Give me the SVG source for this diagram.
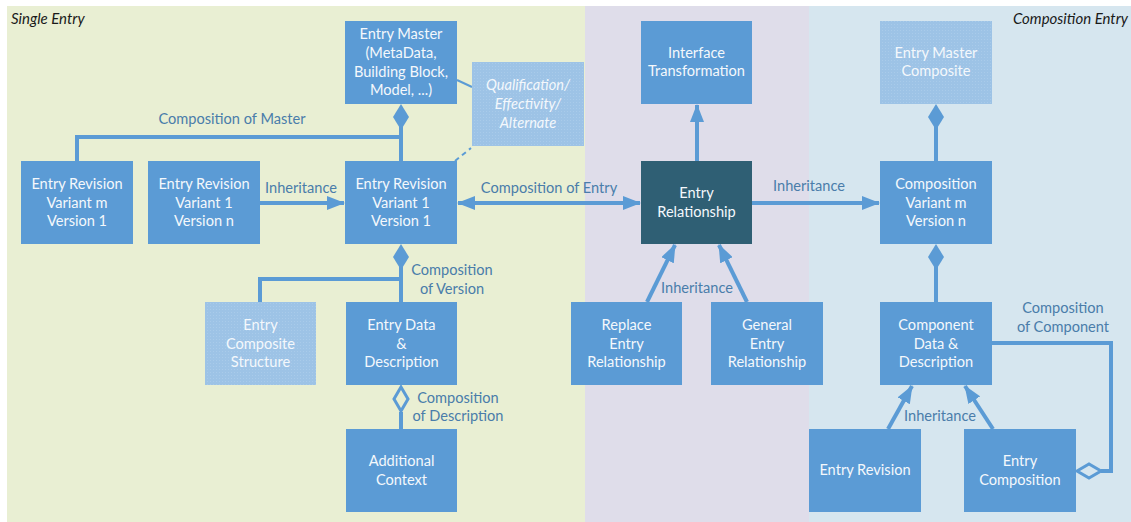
<svg xmlns="http://www.w3.org/2000/svg" width="1131" height="522" viewBox="0 0 1131 522">
<defs>
<style>
.node{fill:#5B9BD5;}
.light{fill:url(#dots);}
.dark{fill:#2F5F74;}
.nt{font-family:Lato,"Liberation Sans",sans-serif;font-size:14.6px;fill:#F4F8FC;text-anchor:middle;}
.it{font-style:italic;}
.lbl{font-family:Lato,"Liberation Sans",sans-serif;font-size:14.6px;fill:#4A7DAA;text-anchor:middle;}
.sec{font-family:Lato,"Liberation Sans",sans-serif;font-size:15px;font-style:italic;fill:#1A1A1A;}
.c{fill:none;stroke:#5B9BD5;stroke-width:4;}
.thin{fill:none;stroke:#5B9BD5;stroke-width:2;}
.fd{fill:#5B9BD5;stroke:none;}
.hd{stroke:#5B9BD5;stroke-width:3;}
</style>
<pattern id="dots" width="3" height="3" patternUnits="userSpaceOnUse">
<rect width="3" height="3" fill="#9DC3E6"/>
<rect width="1" height="1" fill="#A9CBEA"/>
</pattern>
<marker id="arr" viewBox="0 0 18 14" refX="17" refY="7" markerWidth="18" markerHeight="14" markerUnits="userSpaceOnUse" orient="auto">
<path d="M0,0 L18,7 L0,14 z" fill="#5B9BD5"/>
</marker>
<marker id="arrs" viewBox="0 0 18 14" refX="17" refY="7" markerWidth="18" markerHeight="14" markerUnits="userSpaceOnUse" orient="auto-start-reverse">
<path d="M0,0 L18,7 L0,14 z" fill="#5B9BD5"/>
</marker>
</defs>

<g id="panels">
<rect x="0" y="0" width="1131" height="522" fill="#FFFFFF"/>
<rect x="7" y="6" width="578" height="516" fill="#E9EFD3"/>
<rect x="585" y="6" width="224" height="516" fill="#DFDDEA"/>
<rect x="809" y="6" width="322" height="516" fill="#D6E6EF"/>
<text class="sec" x="11" y="24">Single Entry</text>
<text class="sec" x="1128" y="24" text-anchor="end">Composition Entry</text>
</g>

<g id="connectors">
<!-- composition of master -->
<polyline class="c" points="77,161 77,137 401,137"/>
<line class="c" x1="401" y1="161" x2="401" y2="125"/>
<polygon class="fd" points="401,104 409,117 401,130 393,117"/>
<text class="lbl" x="232" y="124">Composition of Master</text>
<!-- inheritance left -->
<line class="c" x1="260" y1="203" x2="344" y2="203" marker-end="url(#arr)"/>
<text class="lbl" x="301" y="193">Inheritance</text>
<!-- qualification -->
<line class="thin" x1="457" y1="80" x2="472" y2="87"/>
<line class="thin" x1="455" y1="161" x2="471" y2="148" stroke-dasharray="5,4"/>
<!-- composition of entry -->
<line class="c" x1="458" y1="203" x2="640" y2="203" marker-start="url(#arrs)" marker-end="url(#arr)"/>
<text class="lbl" x="549" y="193">Composition of Entry</text>
<!-- relationship to interface -->
<line class="c" x1="697" y1="161" x2="697" y2="105" marker-end="url(#arr)"/>
<!-- inheritance right -->
<line class="c" x1="752" y1="203" x2="879" y2="203" marker-end="url(#arr)"/>
<text class="lbl" x="809" y="191">Inheritance</text>
<!-- master composite -->
<line class="c" x1="936" y1="161" x2="936" y2="125"/>
<polygon class="fd" points="936,104 944,117 936,130 928,117"/>
<!-- composition variant to component -->
<line class="c" x1="936" y1="302" x2="936" y2="265"/>
<polygon class="fd" points="936,244 944,257 936,270 928,257"/>
<!-- composition of version -->
<line class="c" x1="401" y1="302" x2="401" y2="265"/>
<polygon class="fd" points="401,244 409,257 401,270 393,257"/>
<polyline class="c" points="401,279 260,279 260,302"/>
<text class="lbl" x="452" y="275">Composition</text>
<text class="lbl" x="452" y="294">of Version</text>
<!-- composition of description -->
<line class="c" x1="401" y1="429" x2="401" y2="412"/>
<polygon class="hd" fill="#E9EFD3" points="401,387 408,399 401,411 394,399"/>
<text class="lbl" x="458" y="403">Composition</text>
<text class="lbl" x="458" y="421">of Description</text>
<!-- inheritance middle -->
<line class="c" x1="647" y1="302" x2="675" y2="245" marker-end="url(#arr)"/>
<line class="c" x1="747" y1="302" x2="719" y2="245" marker-end="url(#arr)"/>
<text class="lbl" x="697" y="293">Inheritance</text>
<!-- inheritance bottom right -->
<line class="c" x1="888" y1="429" x2="912" y2="386" marker-end="url(#arr)"/>
<line class="c" x1="993" y1="429" x2="965" y2="386" marker-end="url(#arr)"/>
<text class="lbl" x="940" y="421">Inheritance</text>
<!-- composition of component -->
<polyline class="c" points="992,343 1111,343 1111,471 1101,471"/>
<polygon class="hd" fill="#D6E6EF" points="1077,471 1089,464 1101,471 1089,478"/>
<text class="lbl" x="1063" y="313">Composition</text>
<text class="lbl" x="1063" y="332">of Component</text>
</g>

<g id="n-rev-m">
<rect class="node" x="21" y="161" width="112" height="83"/>
<text class="nt" x="77" y="189">Entry Revision</text>
<text class="nt" x="77" y="208">Variant m</text>
<text class="nt" x="77" y="226">Version 1</text>
</g>
<g id="n-rev-1n">
<rect class="node" x="148" y="161" width="112" height="83"/>
<text class="nt" x="204" y="189">Entry Revision</text>
<text class="nt" x="204" y="208">Variant 1</text>
<text class="nt" x="204" y="226">Version n</text>
</g>
<g id="n-master">
<rect class="node" x="345" y="21" width="112" height="83"/>
<text class="nt" x="401" y="39">Entry Master</text>
<text class="nt" x="401" y="58">(MetaData,</text>
<text class="nt" x="401" y="77">Building Block,</text>
<text class="nt" x="401" y="95">Model, ...)</text>
</g>
<g id="n-qual">
<rect class="light" x="472" y="62" width="112" height="84"/>
<text class="nt it" x="528" y="90">Qualification/</text>
<text class="nt it" x="528" y="109">Effectivity/</text>
<text class="nt it" x="528" y="128">Alternate</text>
</g>
<g id="n-rev-11">
<rect class="node" x="345" y="161" width="112" height="83"/>
<text class="nt" x="401" y="189">Entry Revision</text>
<text class="nt" x="401" y="208">Variant 1</text>
<text class="nt" x="401" y="226">Version 1</text>
</g>
<g id="n-interface">
<rect class="node" x="641" y="21" width="111" height="83"/>
<text class="nt" x="696.5" y="58">Interface</text>
<text class="nt" x="696.5" y="76">Transformation</text>
</g>
<g id="n-relationship">
<rect class="dark" x="641" y="161" width="111" height="83"/>
<text class="nt" x="696.5" y="198">Entry</text>
<text class="nt" x="696.5" y="217">Relationship</text>
</g>
<g id="n-master-composite">
<rect class="light" x="880" y="21" width="112" height="83"/>
<text class="nt" x="936" y="58">Entry Master</text>
<text class="nt" x="936" y="76">Composite</text>
</g>
<g id="n-composition">
<rect class="node" x="880" y="161" width="112" height="83"/>
<text class="nt" x="936" y="189">Composition</text>
<text class="nt" x="936" y="208">Variant m</text>
<text class="nt" x="936" y="226">Version n</text>
</g>
<g id="n-composite-structure">
<rect class="light" x="205" y="302" width="111" height="83"/>
<text class="nt" x="260.5" y="330">Entry</text>
<text class="nt" x="260.5" y="349">Composite</text>
<text class="nt" x="260.5" y="367">Structure</text>
</g>
<g id="n-data">
<rect class="node" x="346" y="302" width="111" height="83"/>
<text class="nt" x="401.5" y="330">Entry Data</text>
<text class="nt" x="401.5" y="349">&amp;</text>
<text class="nt" x="401.5" y="367">Description</text>
</g>
<g id="n-additional">
<rect class="node" x="346" y="429" width="111" height="83"/>
<text class="nt" x="401.5" y="466">Additional</text>
<text class="nt" x="401.5" y="485">Context</text>
</g>
<g id="n-replace">
<rect class="node" x="571" y="302" width="111" height="83"/>
<text class="nt" x="626.5" y="330">Replace</text>
<text class="nt" x="626.5" y="349">Entry</text>
<text class="nt" x="626.5" y="367">Relationship</text>
</g>
<g id="n-general">
<rect class="node" x="711" y="302" width="112" height="83"/>
<text class="nt" x="767" y="330">General</text>
<text class="nt" x="767" y="349">Entry</text>
<text class="nt" x="767" y="367">Relationship</text>
</g>
<g id="n-component">
<rect class="node" x="880" y="302" width="112" height="83"/>
<text class="nt" x="936" y="330">Component</text>
<text class="nt" x="936" y="349">Data &amp;</text>
<text class="nt" x="936" y="367">Description</text>
</g>
<g id="n-entry-revision">
<rect class="node" x="809" y="429" width="112" height="83"/>
<text class="nt" x="865" y="475">Entry Revision</text>
</g>
<g id="n-entry-composition">
<rect class="node" x="964" y="429" width="112" height="83"/>
<text class="nt" x="1020" y="466">Entry</text>
<text class="nt" x="1020" y="485">Composition</text>
</g>
</svg>
